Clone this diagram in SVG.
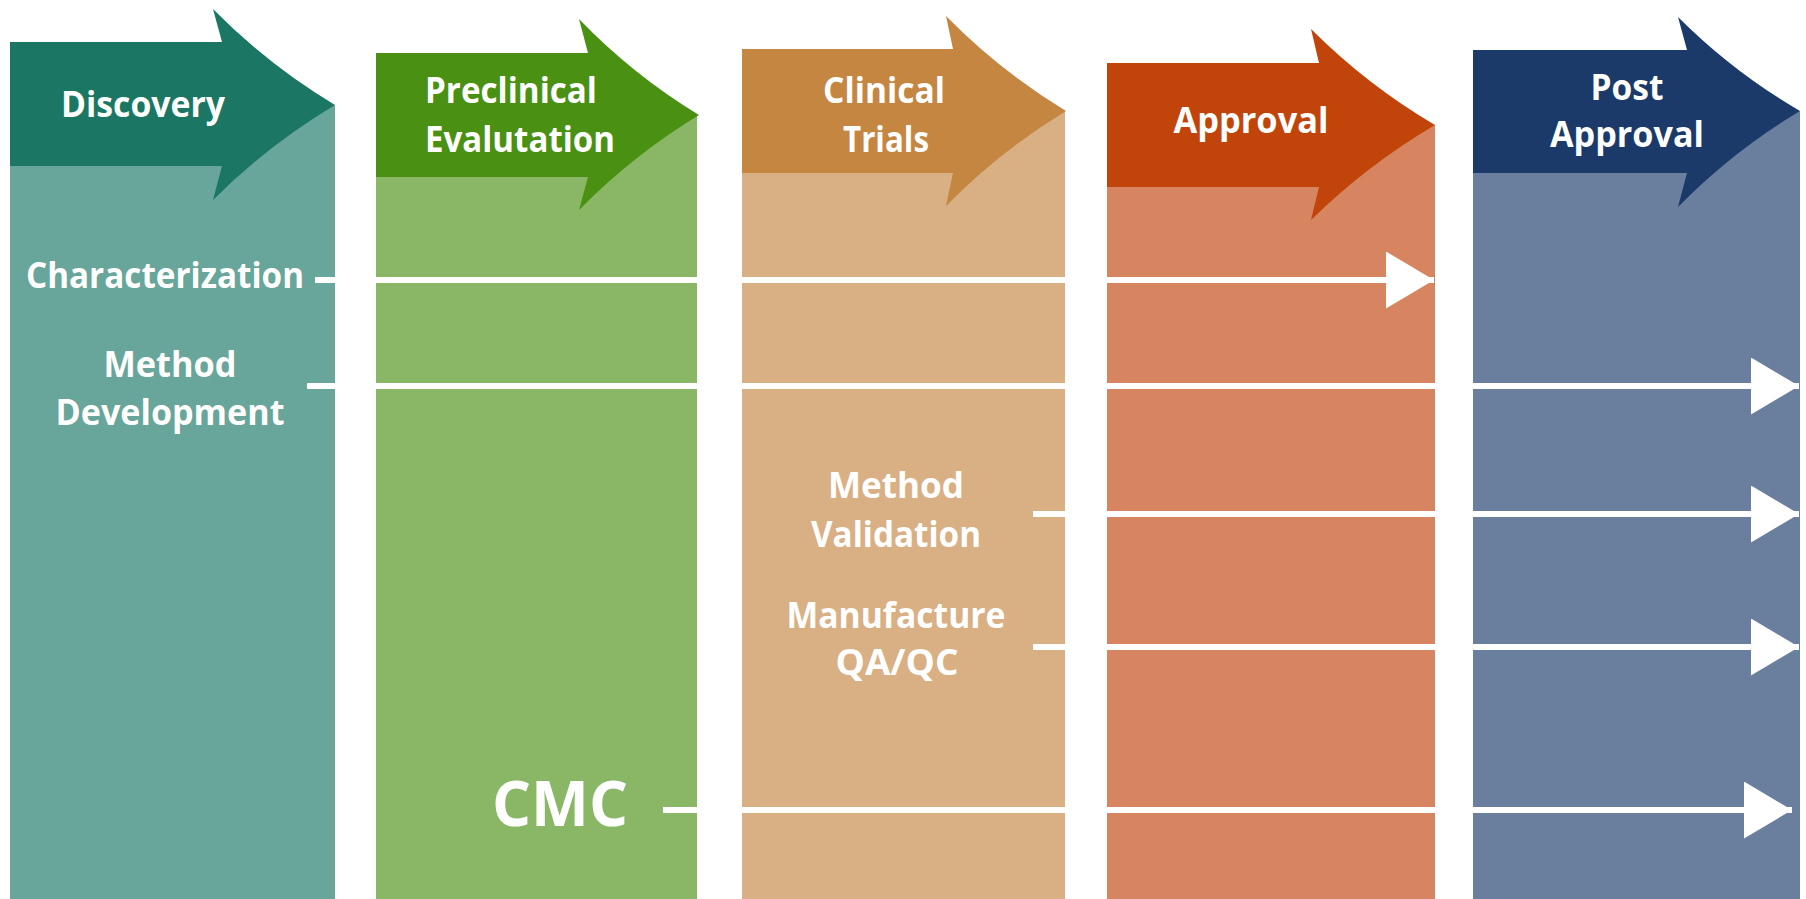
<svg xmlns="http://www.w3.org/2000/svg" width="1806" height="899" viewBox="0 0 1806 899">
<style>
.t{font-family:"Open Sans","Liberation Sans",sans-serif;font-weight:700;fill:#ffffff;font-size:36px}
.c{text-anchor:middle}
.big{font-size:62px}
.ln{stroke:#ffffff;stroke-width:6;fill:none}
</style>
<defs>
<marker id="ah" markerUnits="userSpaceOnUse" markerWidth="48" markerHeight="58" refX="48" refY="28.5" orient="auto">
<path d="M0,0 L48,28.5 L0,57 Z" fill="#ffffff"/>
</marker>
</defs>
<rect width="1806" height="899" fill="#ffffff"/>
<g id="discovery">
<rect x="10" y="105" width="325" height="794" fill="#68A59A"/>
<path d="M10,42 L222,42 L213,9 Q268,65 335,105 Q268,145 213,200 L222,166 L10,166 Z" fill="#1B7763"/>
<text class="t c" x="143" y="117" textLength="164" lengthAdjust="spacingAndGlyphs">Discovery</text>
</g>
<g id="preclinical">
<rect x="376" y="115" width="321" height="784" fill="#89B766"/>
<path d="M376,53 L588,53 L579,19 Q633,75 699,115 Q633,155 579,210 L588,177 L376,177 Z" fill="#4A9013"/>
<text class="t" x="425" y="103" textLength="172" lengthAdjust="spacingAndGlyphs">Preclinical</text>
<text class="t" x="425" y="152" textLength="190" lengthAdjust="spacingAndGlyphs">Evalutation</text>
</g>
<g id="clinical">
<rect x="742" y="111" width="323" height="788" fill="#D9AF84"/>
<path d="M742,49 L953,49 L946,16 Q1000,71 1066,111 Q1000,151 946,206 L953,173 L742,173 Z" fill="#C48641"/>
<text class="t c" x="884" y="103" textLength="122" lengthAdjust="spacingAndGlyphs">Clinical</text>
<text class="t c" x="886" y="152" textLength="86" lengthAdjust="spacingAndGlyphs">Trials</text>
</g>
<g id="approval">
<rect x="1107" y="125" width="328" height="774" fill="#D78461"/>
<path d="M1107,63 L1319,63 L1311,29 Q1367,85 1435,125 Q1367,165 1311,220 L1319,187 L1107,187 Z" fill="#C1440B"/>
<text class="t c" x="1251" y="133" textLength="155" lengthAdjust="spacingAndGlyphs">Approval</text>
</g>
<g id="post-approval">
<rect x="1473" y="111" width="327" height="788" fill="#6A7E9E"/>
<path d="M1473,50 L1687,50 L1678,17 Q1733,72 1800,111 Q1733,151 1678,207 L1687,173 L1473,173 Z" fill="#1B3A6A"/>
<text class="t c" x="1627" y="100" textLength="73" lengthAdjust="spacingAndGlyphs">Post</text>
<text class="t c" x="1627" y="147" textLength="154" lengthAdjust="spacingAndGlyphs">Approval</text>
</g>
<g id="labels">
<text class="t" x="26" y="288" textLength="278" lengthAdjust="spacingAndGlyphs">Characterization</text>
<text class="t c" x="170" y="377" textLength="133" lengthAdjust="spacingAndGlyphs">Method</text>
<text class="t c" x="170" y="425" textLength="229" lengthAdjust="spacingAndGlyphs">Development</text>
<text class="t c" x="896" y="498" textLength="136" lengthAdjust="spacingAndGlyphs">Method</text>
<text class="t c" x="896" y="547" textLength="170" lengthAdjust="spacingAndGlyphs">Validation</text>
<text class="t c" x="896" y="628" textLength="219" lengthAdjust="spacingAndGlyphs">Manufacture</text>
<text class="t c" x="897" y="675" textLength="123" lengthAdjust="spacingAndGlyphs">QA/QC</text>
<text class="t big c" x="560" y="826" textLength="136" lengthAdjust="spacingAndGlyphs">CMC</text>
</g>
<g id="connectors">
<path class="ln" d="M315,280 L1434,280" marker-end="url(#ah)"/>
<path class="ln" d="M307,386 L1799,386" marker-end="url(#ah)"/>
<path class="ln" d="M1033,514 L1799,514" marker-end="url(#ah)"/>
<path class="ln" d="M1033,647 L1799,647" marker-end="url(#ah)"/>
<path class="ln" d="M663,810 L1792,810" marker-end="url(#ah)"/>
</g>
</svg>
